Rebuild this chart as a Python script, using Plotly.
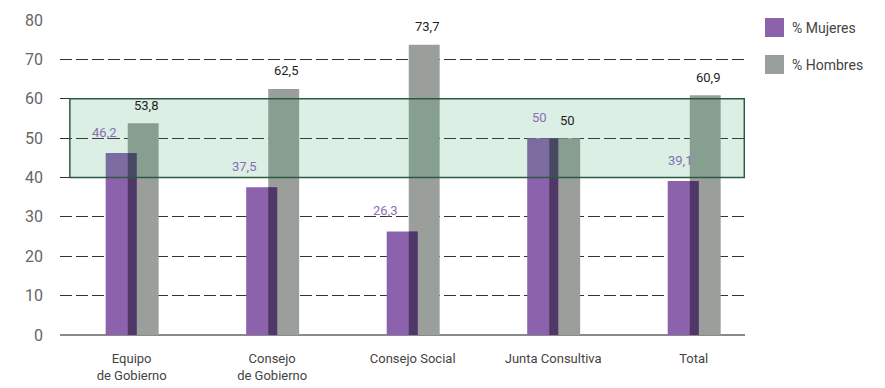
import plotly.graph_objects as go

# Composition of governing bodies by sex (%)
categorias = ["Equipo<br>de Gobierno", "Consejo<br>de Gobierno", "Consejo Social",
              "Junta Consultiva", "Total"]
mujeres = [46.2, 37.5, 26.3, 50.0, 39.1]
hombres = [53.8, 62.5, 73.7, 50.0, 60.9]
y_ticks = [0, 10, 20, 30, 40, 50, 60, 70, 80]
banda_paridad = (40, 60)
series = ["% Mujeres", "% Hombres"]

MORADO = "#8d62ad"
MORADO_OSC = "#4f3767"
GRIS = "#9b9f9c"
FUENTE = "Roboto, Arial"

W, H = 885, 388
ML, MR, MT, MB = 60, 140, 20, 53
PW, PH = W - ML - MR, H - MT - MB

x_idx = list(range(len(categorias)))
ancho = 0.22
off_m = -0.185
off_h = -0.028


def fmt(v):
    s = f"{v:.1f}".replace(".", ",")
    return s[:-2] if s.endswith(",0") else s


def px_x(p):
    return (p - ML) / PW


def px_y(p):
    return (H - MB - p) / PH


fig = go.Figure()
fig.add_trace(go.Bar(x=x_idx, y=hombres, name=series[1], marker_color=GRIS,
                     marker_line_width=0, width=ancho, offset=off_h, showlegend=False))
fig.add_trace(go.Bar(x=x_idx, y=mujeres, name=series[0], marker_color=MORADO,
                     marker_line_width=0, width=ancho, offset=off_m, showlegend=False))
# darker strip where the two bars overlap
solape = [min(m, h) for m, h in zip(mujeres, hombres)]
fig.add_trace(go.Bar(x=x_idx, y=solape, showlegend=False, marker_color=MORADO_OSC,
                     marker_line_width=0, width=0.064, offset=off_h, hoverinfo="skip"))

# value labels
for i, (m, h) in enumerate(zip(mujeres, hombres)):
    dx = -0.2 if m < h and i < 3 else -0.1
    fig.add_annotation(x=i + dx, y=m, text=fmt(m), showarrow=False, yshift=21,
                       font=dict(family=FUENTE, size=13, color="#8a6db3"))
    fig.add_annotation(x=i + 0.1, y=h, text=fmt(h), showarrow=False, yshift=18,
                       font=dict(family=FUENTE, size=13, color="#1e1e1e"))

# parity band 40-60 %
fig.add_shape(type="rect", xref="x", yref="y", x0=-0.44, x1=4.36,
              y0=banda_paridad[0], y1=banda_paridad[1],
              fillcolor="rgba(40,160,95,0.17)",
              line=dict(color="#2e5a42", width=1.5), layer="above")

# legend: colour squares with labels
for nombre, color, top in [(series[0], MORADO, 18), (series[1], GRIS, 55)]:
    fig.add_shape(type="rect", xref="paper", yref="paper",
                  x0=px_x(765), x1=px_x(784), y0=px_y(top + 19), y1=px_y(top),
                  fillcolor=color, line_width=0)
    fig.add_annotation(xref="paper", yref="paper", x=px_x(790), y=px_y(top + 10),
                       xanchor="left", yanchor="middle", text=nombre, showarrow=False,
                       font=dict(family=FUENTE, size=14, color="#444"))

fig.update_layout(
    width=W, height=H,
    margin=dict(l=ML, r=MR, t=MT, b=MB),
    paper_bgcolor="white", plot_bgcolor="white",
    barmode="overlay",
    showlegend=False,
    font=dict(family=FUENTE, color="#444"),
    xaxis=dict(range=[-0.51, 4.365], tickmode="array", tickvals=x_idx,
               ticktext=categorias, showgrid=False, showline=False,
               zeroline=False, ticks="", ticklabelstandoff=14, automargin=False,
               tickfont=dict(size=13, color="#444")),
    yaxis=dict(range=[0, 80], tickvals=y_ticks, showgrid=True,
               gridcolor="#333", gridwidth=1.2, griddash="12px,4px",
               zeroline=True, zerolinecolor="#8a8a8a", zerolinewidth=2,
               showline=False, ticks="", ticklabelstandoff=16, automargin=False,
               layer="above traces",
               tickfont=dict(size=16, color="#666")),
)

fig.write_html("out.html")
